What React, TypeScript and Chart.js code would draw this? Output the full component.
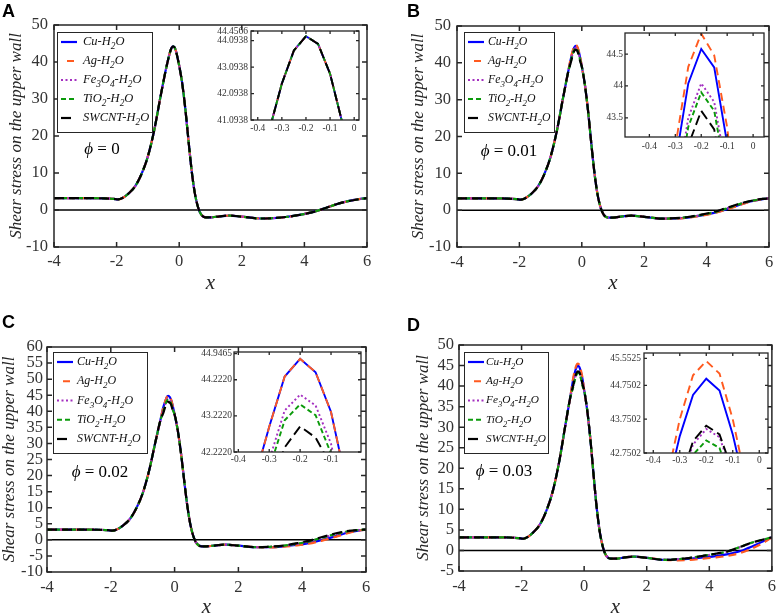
import { useEffect, useRef } from 'react';
import Chart from 'chart.js/auto';

const SERIF = "'Liberation Serif', 'Times New Roman', serif";
const INK = '#262626';

Chart.defaults.font.family = SERIF;
Chart.defaults.color = INK;

// nanofluids, legend order
const FLUIDS = ['Cu-H₂O', 'Ag-H₂O', 'Fe₃O₄-H₂O', 'TiO₂-H₂O', 'SWCNT-H₂O'];
const COLORS = ['#0000ff', '#ff5a1f', '#a42fc0', '#0b9a0b', '#000000'];
const DASHES = [[], [8, 5], [2, 2.5], [5, 3], [10, 5]];
const LEGEND_DASHES = [[], [0, 6, 7, 20], [2, 2.5], [5, 3], [10, 20]];

// common shape of the wall shear stress
const X_MAIN = [-4, -3, -2.4, -2.1, -1.95, -1.8, -1.6, -1.4, -1.2, -1.0, -0.8, -0.6, -0.45,
  -0.35, -0.3, -0.25, -0.2, -0.15, -0.1, -0.05, 0, 0.1, 0.2, 0.3, 0.4, 0.5, 0.6, 0.7, 0.85,
  1.0, 1.3, 1.6, 2.0, 2.6, 3.0, 3.4, 3.8, 4.2, 4.6, 5.0, 5.4, 5.8, 6.0];
const SHEAR_BASE = [3.2, 3.2, 3.15, 3.0, 2.85, 3.3, 4.6, 6.5, 9.8, 14.5, 21.5, 30.5, 37.0,
  40.78, 42.47, 43.72, 44.26, 43.97, 42.84, 41.02, 39.0, 34.0, 27.0, 18.5, 10.5, 4.5, 0.8, -1.2, -2.0,
  -2.0, -1.7, -1.5, -1.8, -2.3, -2.2, -1.9, -1.4, -0.7, 0.3, 1.5, 2.4, 3.0, 3.2];

// peak region (also shown in the insets), one row per fluid
const X_PEAK = [-0.35, -0.3, -0.25, -0.2, -0.15, -0.1, -0.05];
const PEAK_A = [
  [40.78, 42.47, 43.72, 44.26, 43.97, 42.84, 41.02],
  [40.78, 42.47, 43.72, 44.26, 43.97, 42.84, 41.02],
  [40.78, 42.47, 43.72, 44.26, 43.97, 42.84, 41.02],
  [40.78, 42.47, 43.72, 44.26, 43.97, 42.84, 41.02],
  [40.78, 42.47, 43.72, 44.26, 43.97, 42.84, 41.02],
];
const PEAK_B = [
  [41.1, 42.79, 44.04, 44.58, 44.29, 43.1, 41.3],
  [41.4, 43.05, 44.3, 44.82, 44.48, 43.35, 41.6],
  [40.6, 42.25, 43.5, 44.04, 43.75, 42.62, 40.8],
  [40.45, 42.1, 43.36, 43.9, 43.61, 42.48, 40.66],
  [40.15, 41.82, 43.07, 43.61, 43.32, 42.19, 40.37],
];
const PEAK_C = [
  [41.4, 42.92, 44.31, 44.8, 44.43, 43.33, 41.35],
  [41.4, 42.92, 44.31, 44.8, 44.43, 43.33, 41.35],
  [40.4, 42.0, 43.37, 43.81, 43.51, 42.45, 40.5],
  [40.1, 41.75, 43.1, 43.54, 43.24, 42.18, 40.25],
  [39.6, 41.2, 42.35, 42.93, 42.62, 41.85, 39.8],
];
const PEAK_D = [
  [41.6, 43.25, 44.47, 44.95, 44.6, 43.3, 41.6],
  [41.9, 43.75, 45.05, 45.47, 45.1, 43.75, 41.9],
  [40.1, 41.8, 43.0, 43.46, 43.22, 42.1, 40.3],
  [39.8, 41.45, 42.7, 43.12, 42.9, 41.75, 40.0],
  [40.2, 41.9, 43.1, 43.56, 43.3, 42.2, 40.4],
];

// recovery region where the fluids separate
const X_TAIL = [3.0, 3.4, 3.8, 4.2, 4.6, 5.0, 5.4, 5.8];
const TAIL_B = [
  [-2.25, -2.0, -1.5, -0.8, 0.15, 1.3, 2.35, 3.0],
  [-2.3, -2.05, -1.55, -0.9, 0.05, 1.2, 2.3, 3.0],
  [-2.2, -1.9, -1.35, -0.65, 0.35, 1.5, 2.45, 3.05],
  [-2.2, -1.9, -1.35, -0.65, 0.35, 1.5, 2.45, 3.05],
  [-2.15, -1.85, -1.25, -0.55, 0.5, 1.6, 2.5, 3.05],
];
const TAIL_C = [
  [-2.3, -2.05, -1.6, -1.0, -0.1, 1.0, 2.2, 2.95],
  [-2.35, -2.15, -1.75, -1.2, -0.3, 0.8, 2.0, 2.9],
  [-2.2, -1.9, -1.3, -0.6, 0.5, 1.6, 2.5, 3.05],
  [-2.15, -1.85, -1.25, -0.5, 0.6, 1.7, 2.6, 3.1],
  [-2.1, -1.8, -1.1, -0.3, 0.8, 1.9, 2.7, 3.1],
];
const TAIL_D = [
  [-2.2, -2.0, -1.7, -1.4, -0.9, -0.15, 1.1, 2.5],
  [-2.4, -2.3, -2.0, -1.7, -1.3, -0.6, 0.6, 2.2],
  [-2.1, -1.8, -1.35, -0.85, -0.25, 0.85, 1.95, 2.8],
  [-2.1, -1.8, -1.3, -0.8, -0.2, 0.9, 2.0, 2.8],
  [-2.1, -1.8, -1.3, -0.8, -0.2, 0.9, 2.0, 2.8],
];

const PHI = ['0', '0.01', '0.02', '0.03'];
const MAIN_X_TICKS = [-4, -2, 0, 2, 4, 6];
const Y_TICKS_AB = [-10, 0, 10, 20, 30, 40, 50];
const Y_TICKS_C = [-10, -5, 0, 5, 10, 15, 20, 25, 30, 35, 40, 45, 50, 55, 60];
const Y_TICKS_D = [-5, 0, 5, 10, 15, 20, 25, 30, 35, 40, 45, 50];
const INSET_X_TICKS = [-0.4, -0.3, -0.2, -0.1, 0];
const INSET_X_TICKS_C = [-0.4, -0.3, -0.2, -0.1];
const INSET_Y_TICKS_A = [41.0938, 42.0938, 43.0938, 44.0938, 44.4566];
const INSET_Y_TICKS_B = [43.5, 44, 44.5];
const INSET_Y_TICKS_C = [42.222, 43.222, 44.222, 44.9465];
const INSET_Y_TICKS_D = [42.7502, 43.7502, 44.7502, 45.5525];

const fix4 = (v: number) => v.toFixed(4);
const plain = (v: number) => String(Math.round(v * 1000) / 1000);

const PANELS = [
  {
    letter: 'A', letterAt: [2, 2], phi: PHI[0], phiAt: [102, 150], peak: PEAK_A, tail: null as any,
    yMin: -10, yMax: 50, yTicks: Y_TICKS_AB,
    main: { left: 0, top: 0, w: 391, h: 305, yW: 54, padT: 25, padR: 24, xH: 58, yTitle: 8.5, xTitle: 11.5, yPad: 6, xPad: 5 },
    legend: { box: [57, 32, 95, 100], size: 12.5, dx: 26 },
    inset: { left: 205, top: 22, w: 160, h: 118, yW: 46, padT: 9, padR: 6, xH: 20, yPad: 3, xPad: 3,
      xMin: -0.428, xMax: 0.02, yMin: 41.0938, yMax: 44.4566, xTicks: INSET_X_TICKS, yTicks: INSET_Y_TICKS_A, fmt: fix4 },
  },
  {
    letter: 'B', letterAt: [407, 2], phi: PHI[1], phiAt: [118, 152], peak: PEAK_B, tail: TAIL_B,
    yMin: -10, yMax: 50, yTicks: Y_TICKS_AB,
    main: { left: 391, top: 0, w: 391, h: 305, yW: 66, padT: 26, padR: 13, xH: 58, yTitle: 19.5, xTitle: 11.5, yPad: 6, xPad: 6 },
    legend: { box: [73, 32, 90, 100], size: 11.8, dx: 24 },
    inset: { left: 593, top: 24, w: 176, h: 130, yW: 32, padT: 9, padR: 5, xH: 17, yPad: 2, xPad: 4,
      xMin: -0.494, xMax: 0.042, yMin: 43.2, yMax: 44.83, xTicks: INSET_X_TICKS, yTicks: INSET_Y_TICKS_B, fmt: plain },
  },
  {
    letter: 'C', letterAt: [2, 313], phi: PHI[2], phiAt: [100, 168], peak: PEAK_C, tail: TAIL_C,
    yMin: -10, yMax: 60, yTicks: Y_TICKS_C,
    main: { left: 0, top: 305, w: 391, h: 309, yW: 47, padT: 42, padR: 25, xH: 42, yTitle: 1, xTitle: -3.5, yPad: 4, xPad: 6 },
    legend: { box: [53, 47, 94, 101], size: 12, dx: 24 },
    inset: { left: 190, top: 343, w: 176, h: 124, yW: 44, padT: 9, padR: 5, xH: 15, yPad: 2, xPad: 1.5,
      xMin: -0.414, xMax: -0.003, yMin: 42.222, yMax: 44.99, xTicks: INSET_X_TICKS_C, yTicks: INSET_Y_TICKS_C, fmt: fix4 },
  },
  {
    letter: 'D', letterAt: [407, 316], phi: PHI[3], phiAt: [113, 167], peak: PEAK_D, tail: TAIL_D,
    yMin: -5, yMax: 50, yTicks: Y_TICKS_D,
    main: { left: 391, top: 305, w: 391, h: 309, yW: 68, padT: 40, padR: 8, xH: 43, yTitle: 24.5, xTitle: -3.5, yPad: 5, xPad: 6 },
    legend: { box: [73, 47, 84, 101], size: 11.3, dx: 22 },
    inset: { left: 600, top: 344, w: 174, h: 124, yW: 44, padT: 9, padR: 6, xH: 15, yPad: 3, xPad: 1.5,
      xMin: -0.435, xMax: 0.033, yMin: 42.7502, yMax: 45.71, xTicks: INSET_X_TICKS, yTicks: INSET_Y_TICKS_D, fmt: fix4 },
  },
];

function mainPoints(peak: number[], tail: number[] | null) {
  const over = new Map<number, number>();
  X_PEAK.forEach((x, i) => over.set(x, peak[i]));
  if (tail) X_TAIL.forEach((x, i) => over.set(x, tail[i]));
  return X_MAIN.map((x, i) => ({ x, y: over.has(x) ? over.get(x)! : SHEAR_BASE[i] }));
}

const SUBS = '₀₁₂₃₄₅₆₇₈₉';
function drawRich(ctx: CanvasRenderingContext2D, text: string, x: number, y: number, size: number) {
  const runs: { s: string; sub: boolean }[] = [];
  for (const ch of text) {
    const k = SUBS.indexOf(ch);
    const sub = k >= 0;
    const c = sub ? String(k) : ch;
    const last = runs[runs.length - 1];
    if (last && last.sub === sub) last.s += c;
    else runs.push({ s: c, sub });
  }
  let cx = x;
  for (const r of runs) {
    ctx.font = `italic ${r.sub ? size * 0.75 : size}px ${SERIF}`;
    ctx.fillText(r.s, cx, r.sub ? y + size * 0.4 : y);
    cx += ctx.measureText(r.s).width;
  }
}

// MATLAB-like box with inward ticks on all four sides
function framePlugin(tick: number, width: number, white: boolean) {
  return {
    id: 'frame',
    beforeDatasetsDraw(chart: any) {
      if (!white) return;
      const { ctx, chartArea: a } = chart;
      ctx.save();
      ctx.fillStyle = '#fff';
      ctx.fillRect(a.left, a.top, a.right - a.left, a.bottom - a.top);
      ctx.restore();
    },
    afterDatasetsDraw(chart: any) {
      const { ctx, chartArea: a, scales } = chart;
      ctx.save();
      ctx.strokeStyle = INK;
      ctx.lineWidth = width;
      ctx.setLineDash([]);
      ctx.strokeRect(a.left, a.top, a.right - a.left, a.bottom - a.top);
      ctx.beginPath();
      scales.x.ticks.forEach((t: any) => {
        const px = scales.x.getPixelForValue(t.value);
        ctx.moveTo(px, a.bottom); ctx.lineTo(px, a.bottom - tick);
        ctx.moveTo(px, a.top); ctx.lineTo(px, a.top + tick);
      });
      scales.y.ticks.forEach((t: any) => {
        const py = scales.y.getPixelForValue(t.value);
        ctx.moveTo(a.left, py); ctx.lineTo(a.left + tick, py);
        ctx.moveTo(a.right, py); ctx.lineTo(a.right - tick, py);
      });
      ctx.stroke();
      ctx.restore();
    },
  };
}

function notesPlugin(p: any) {
  return {
    id: 'notes',
    afterDraw(chart: any) {
      const { ctx } = chart;
      const [l, t, w, h] = p.legend.box;
      ctx.save();
      ctx.fillStyle = '#fff';
      ctx.fillRect(l, t, w, h);
      ctx.strokeStyle = INK;
      ctx.lineWidth = 1;
      ctx.strokeRect(l + 0.5, t + 0.5, w, h);
      const step = (h - 24) / (FLUIDS.length - 1);
      chart.data.datasets.slice(0, FLUIDS.length).forEach((ds: any, i: number) => {
        const yy = t + 10 + i * step;
        ctx.strokeStyle = ds.borderColor;
        ctx.lineWidth = 2.2;
        ctx.setLineDash(LEGEND_DASHES[i]);
        ctx.beginPath();
        ctx.moveTo(l + 4, yy);
        ctx.lineTo(l + 20, yy);
        ctx.stroke();
        ctx.setLineDash([]);
        ctx.fillStyle = '#111';
        ctx.textBaseline = 'middle';
        ctx.textAlign = 'left';
        drawRich(ctx, ds.label, l + p.legend.dx, yy, p.legend.size);
      });

      // phi annotation
      const size = 17;
      const a = 'ϕ';
      const b = ' = ' + p.phi;
      ctx.font = `italic ${size}px ${SERIF}`;
      const wa = ctx.measureText(a).width;
      ctx.font = `${size}px ${SERIF}`;
      const wb = ctx.measureText(b).width;
      const x0 = p.phiAt[0] - (wa + wb) / 2;
      ctx.fillStyle = '#000';
      ctx.textBaseline = 'middle';
      ctx.font = `italic ${size}px ${SERIF}`;
      ctx.fillText(a, x0, p.phiAt[1]);
      ctx.font = `${size}px ${SERIF}`;
      ctx.fillText(b, x0 + wa, p.phiAt[1]);
      ctx.restore();
    },
  };
}

function axis(min: number, max: number, ticks: number[], fmt: (v: number) => number | string,
  size: number, pad: number, fit: (s: any) => void, title: any) {
  return {
    type: 'linear' as const,
    min,
    max,
    afterBuildTicks: (s: any) => { s.ticks = ticks.map((v) => ({ value: v })); },
    afterFit: fit,
    grid: { display: false, drawTicks: false },
    border: { display: false },
    ticks: {
      autoSkip: false, maxRotation: 0, minRotation: 0, padding: pad,
      font: { size }, color: '#333',
      callback: (v: any) => fmt(Number(v)),
    },
    title,
  };
}

function buildMain(canvas: HTMLCanvasElement, p: any) {
  const m = p.main;
  const datasets: any[] = FLUIDS.map((label, i) => ({
    label,
    data: mainPoints(p.peak[i], p.tail ? p.tail[i] : null),
    borderColor: COLORS[i],
    borderWidth: 2.2,
    borderDash: DASHES[i],
    pointRadius: 0,
    cubicInterpolationMode: 'monotone',
    fill: false,
    order: FLUIDS.length - i,
  }));
  datasets.push({
    label: '',
    data: [{ x: -4, y: 0 }, { x: 6, y: 0 }],
    borderColor: '#000',
    borderWidth: 1.5,
    pointRadius: 0,
    order: 10,
  });
  return new Chart(canvas, {
    type: 'line',
    data: { datasets },
    options: {
      animation: false,
      responsive: true,
      maintainAspectRatio: false,
      events: [],
      layout: { padding: { top: m.padT, right: m.padR, left: 0, bottom: 0 } },
      plugins: { legend: { display: false }, tooltip: { enabled: false } },
      scales: {
        x: axis(-4, 6, MAIN_X_TICKS, plain, 16.5, m.xPad, (s: any) => { s.height = m.xH; }, {
          display: true, text: 'x', color: INK,
          font: { size: 21, style: 'italic', lineHeight: 1 },
          padding: { top: 0, bottom: m.xTitle },
        }),
        y: axis(p.yMin, p.yMax, p.yTicks, plain, 16.5, m.yPad, (s: any) => { s.width = m.yW; }, {
          display: true, text: 'Shear stress on the upper wall', color: INK,
          font: { size: 17, style: 'italic', lineHeight: 1 },
          padding: { top: m.yTitle, bottom: 0 },
        }),
      },
    } as any,
    plugins: [framePlugin(5, 1.5, false), notesPlugin(p)],
  });
}

function buildInset(canvas: HTMLCanvasElement, p: any) {
  const s = p.inset;
  const datasets: any[] = FLUIDS.map((label, i) => ({
    label,
    data: X_PEAK.map((x, k) => ({ x, y: p.peak[i][k] })),
    borderColor: COLORS[i],
    borderWidth: 1.9,
    borderDash: DASHES[i],
    pointRadius: 0,
    tension: 0,
    fill: false,
    order: FLUIDS.length - i,
  }));
  return new Chart(canvas, {
    type: 'line',
    data: { datasets },
    options: {
      animation: false,
      responsive: true,
      maintainAspectRatio: false,
      events: [],
      layout: { padding: { top: s.padT, right: s.padR, left: 0, bottom: 0 } },
      plugins: { legend: { display: false }, tooltip: { enabled: false } },
      scales: {
        x: axis(s.xMin, s.xMax, s.xTicks, plain, 9.5, s.xPad, (sc: any) => { sc.height = s.xH; }, { display: false }),
        y: axis(s.yMin, s.yMax, s.yTicks, s.fmt, 9.5, s.yPad, (sc: any) => { sc.width = s.yW; }, { display: false }),
      },
    } as any,
    plugins: [framePlugin(3, 1.3, true)],
  });
}

function ChartBox({ box, build, panel }: { box: any; build: (c: HTMLCanvasElement, p: any) => Chart; panel: any }) {
  const ref = useRef<HTMLCanvasElement | null>(null);
  useEffect(() => {
    if (!ref.current) return;
    const chart = build(ref.current, panel);
    return () => chart.destroy();
  }, []);
  return (
    <div style={{ position: 'absolute', left: box.left, top: box.top, width: box.w, height: box.h }}>
      <canvas ref={ref} />
    </div>
  );
}

export default function App() {
  return (
    <div style={{ position: 'fixed', left: 0, top: 0, width: 782, height: 614, background: '#fff', overflow: 'hidden' }}>
      {PANELS.map((p) => (
        <div key={p.letter}>
          <ChartBox box={p.main} build={buildMain} panel={p} />
          <ChartBox box={p.inset} build={buildInset} panel={p} />
          <div style={{
            position: 'absolute', left: p.letterAt[0], top: p.letterAt[1],
            font: "bold 18px 'Liberation Sans', Arial, sans-serif", lineHeight: 1, color: '#000',
          }}>
            {p.letter}
          </div>
        </div>
      ))}
    </div>
  );
}
